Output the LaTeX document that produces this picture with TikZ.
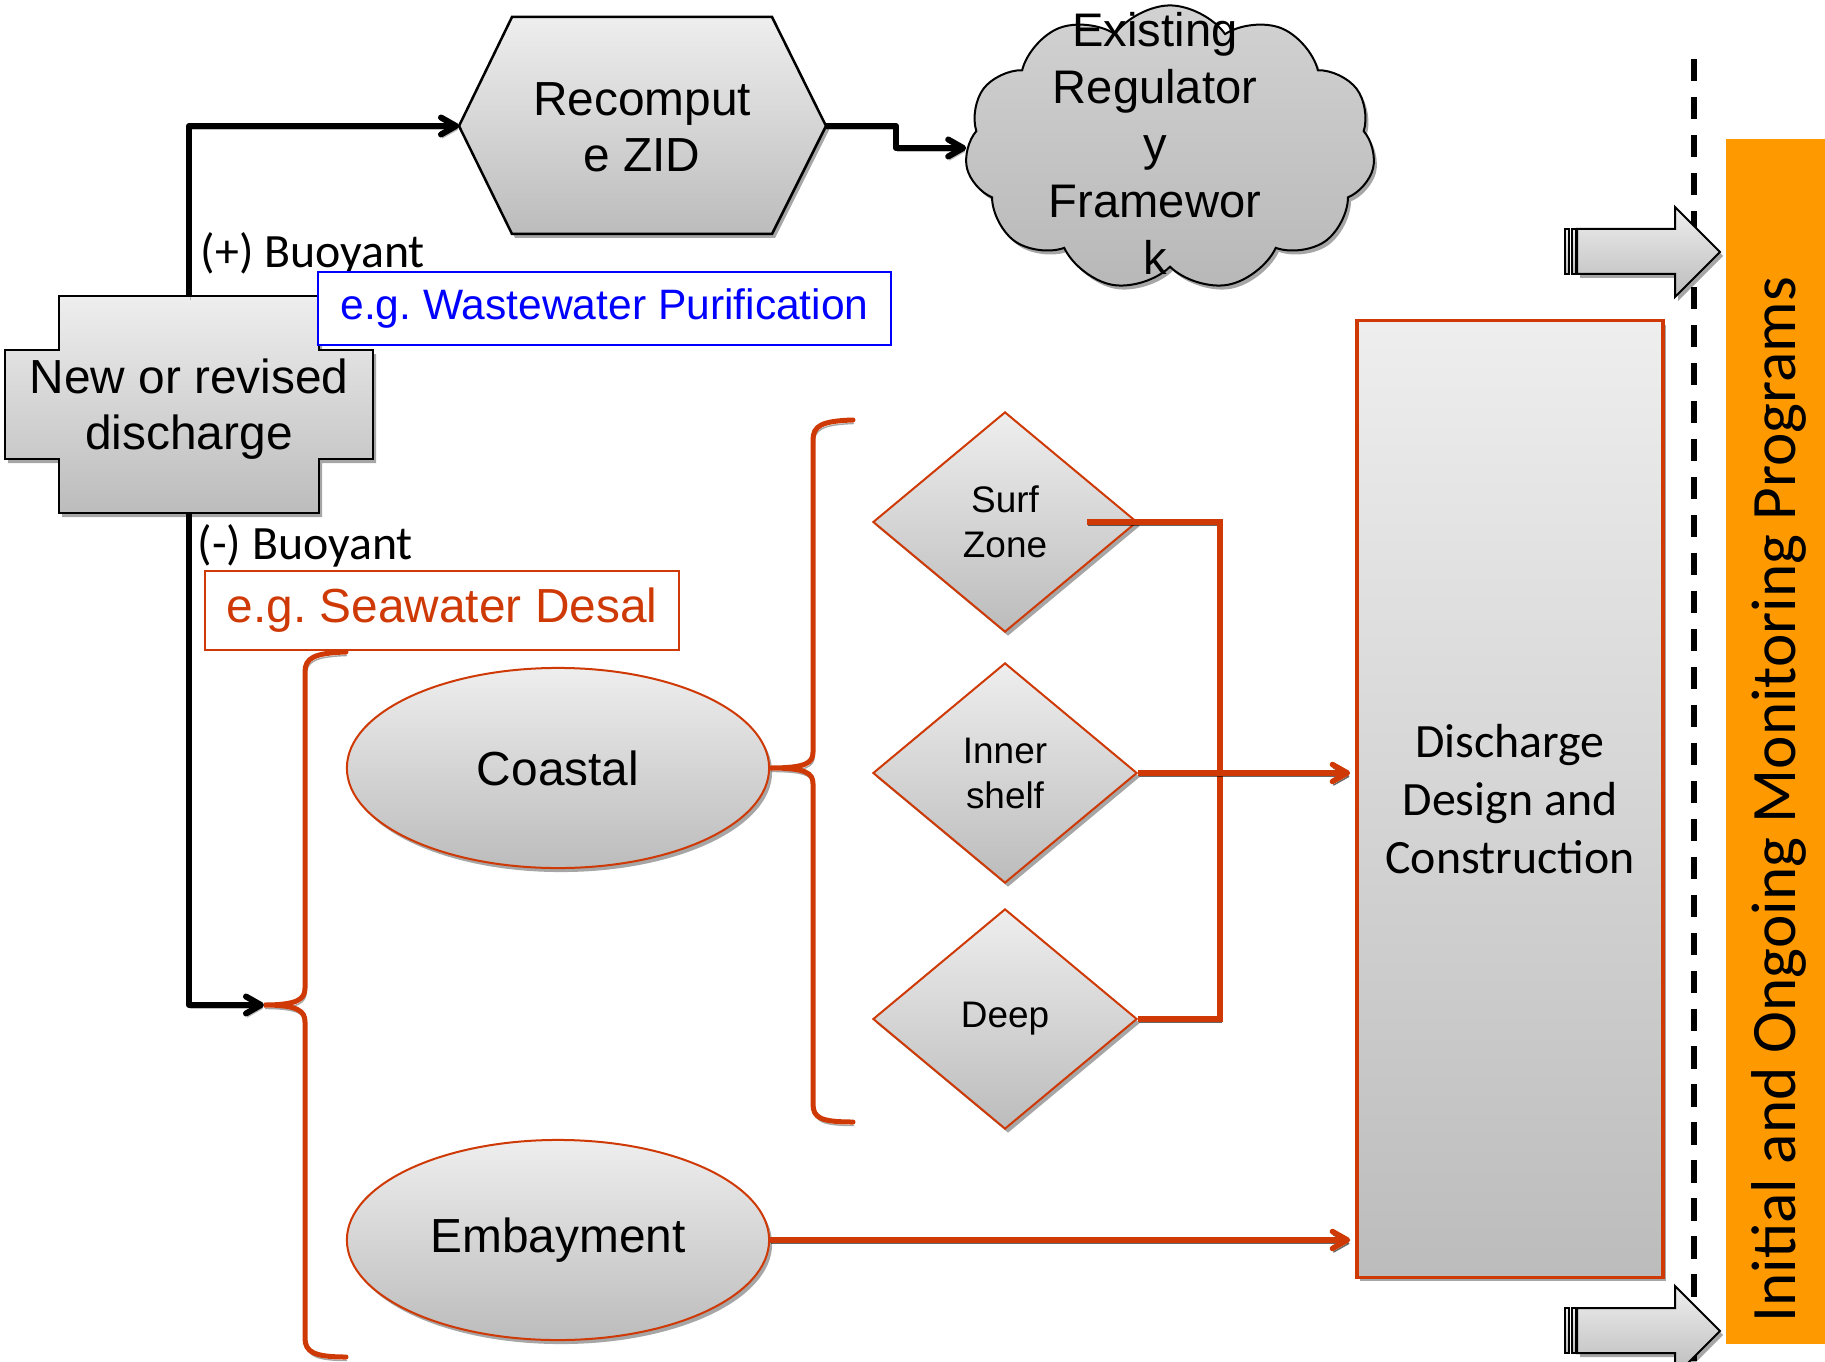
\documentclass[tikz,border=0pt]{standalone}
\usepackage{fontspec}
\setmainfont{Liberation Sans}
\newfontfamily\calib{Carlito}
\frenchspacing
\usetikzlibrary{shapes.geometric,shapes.symbols,arrows.meta,shadows}
\definecolor{myred}{RGB}{206,57,6}
\definecolor{myblue}{RGB}{0,0,255}
\definecolor{myorange}{RGB}{255,153,0}
\definecolor{gtop}{RGB}{238,238,238}
\definecolor{gbot}{RGB}{188,188,188}
\definecolor{ctop}{RGB}{210,210,210}
\definecolor{cbot}{RGB}{184,184,184}
\tikzset{
  shd/.style={drop shadow={shadow xshift=0.03cm, shadow yshift=-0.04cm, opacity=0.35, fill=black}},
  lshd/.style={preaction={draw=black, draw opacity=#1, transform canvas={xshift=0.012cm, yshift=-0.035cm}}},
  lshd/.default=0.3,
  grad/.style={top color=gtop, bottom color=gbot},
  blkline/.style={draw=black, line width=0.06cm, line join=round, lshd=0.25},
  redline/.style={draw=myred, line width=0.055cm, lshd=0.6},
  bracestyle/.style={draw=myred, line width=0.05cm, line cap=round, lshd=0.35},
  barb/.style={-{Straight Barb[length=0.15cm,width=0.17cm,round]}},
  maintxt/.style={font=\fontsize{13.6pt}{15.9pt}\selectfont, align=center},
  smalltxt/.style={font=\fontsize{10.5pt}{12.8pt}\selectfont, align=center},
  caltxt/.style={font=\calib\fontsize{13.6pt}{16.5pt}\selectfont, align=center},
  dmd/.style={diamond, draw=myred, line width=0.02cm, grad, shd, minimum width=2.64cm, minimum height=2.2cm, inner sep=0pt, aspect=1.2, smalltxt},
  ell/.style={ellipse, draw=myred, line width=0.02cm, grad, shd, minimum width=4.22cm, minimum height=2.0cm, inner sep=0pt, maintxt},
  shapeline/.style={draw=black, line width=0.025cm},
}
\begin{document}
\begin{tikzpicture}[x=0.01cm, y=-0.01cm]
\useasboundingbox (0,0) rectangle (1825,1361);
\fill[white] (0,0) rectangle (1825,1361);
\clip (0,0) rectangle (1825,1361);

% dashed separator
\coordinate (dashT) at (1694,59);
\coordinate (dashB) at (1694,1361);
\draw[black, line width=0.065cm, dash pattern=on 6.3pt off 4.5pt] (dashT) -- (dashB);

% orange bar
\node[fill=myorange, minimum width=0.99cm, minimum height=12.05cm, inner sep=0pt] (mon) at (1775.5,741.5) {};
\node[rotate=90, anchor=base west, inner sep=0pt, font=\calib\fontsize{18pt}{21pt}\selectfont] (montxt) at (1795,1323) {Initial and Ongoing Monitoring Programs};

% block arrows
\path[shapeline, line width=0.02cm, grad, shd] (1577,229) -- (1675,229) -- (1675,207) -- (1720,252) -- (1675,297) -- (1675,274) -- (1577,274) -- cycle;
\path[shapeline, line width=0.02cm, grad] (1565,229) rectangle (1569,274);
\path[shapeline, line width=0.02cm, grad] (1571.5,229) rectangle (1575.5,274);
\path[shapeline, line width=0.02cm, grad, shd] (1577,1308) -- (1675,1308) -- (1675,1286) -- (1720,1331) -- (1675,1376) -- (1675,1353) -- (1577,1353) -- cycle;
\path[shapeline, line width=0.02cm, grad] (1565,1308) rectangle (1569,1353);
\path[shapeline, line width=0.02cm, grad] (1571.5,1308) rectangle (1575.5,1353);

% cross: new or revised discharge
\path[shapeline, grad, shd] (59,296) -- (319,296) -- (319,350) -- (373,350) -- (373,459) -- (319,459) -- (319,513) -- (59,513) -- (59,459) -- (5,459) -- (5,350) -- (59,350) -- cycle;
\node[maintxt] (disc) at (189,409) {New or revised\\discharge};
\coordinate (discN) at (189,296);
\coordinate (discS) at (189,513);

% hexagon: recompute ZID
\path[shapeline, grad, shd] (459,126) -- (512,17) -- (772,17) -- (826,126) -- (772,234) -- (512,234) -- cycle;
\node[maintxt] (zid) at (642,127) {Recomput\\e ZID};
\coordinate (zidW) at (459,126);
\coordinate (zidE) at (826,126);

% cloud
\node[cloud, draw=black, line width=0.02cm, top color=ctop, bottom color=cbot, cloud puffs=11, cloud puff arc=110, aspect=1.44, minimum width=4.1cm, minimum height=2.85cm, inner sep=0pt, shd] (cloud) at (1170,148) {};
\node[font=\fontsize{13.4pt}{16.2pt}\selectfont, align=center] (cloudtxt) at (1155,143) {Existing\\Regulator\\y\\Framewor\\k};

% labels
\node[caltxt, anchor=west, inner sep=0pt] (pbuoy) at (200,254) {(+) Buoyant};
\node[caltxt, anchor=west, inner sep=0pt] (nbuoy) at (197,546) {(-) Buoyant};
\node[draw=myblue, fill=white, line width=0.018cm, minimum width=5.73cm, minimum height=0.73cm, inner sep=0pt, text=myblue, font=\fontsize{12.1pt}{14pt}\selectfont] (wwp) at (604.5,308.5) {e.g. Wastewater Purification};
\node[draw=myred, fill=white, line width=0.015cm, minimum width=4.74cm, minimum height=0.79cm, inner sep=0pt, text=myred, font=\fontsize{13.6pt}{15.9pt}\selectfont] (swd) at (442,610.5) {e.g. Seawater Desal};

% black connectors
\draw[blkline, barb] (discN) |- (zidW);
\draw[blkline, barb] (zidE) -- ++(70,0) |- (cloud.west);
\coordinate (lcusp) at (264,1005);
\draw[blkline, barb] (discS) |- (lcusp);

% ellipses
\node[ell] (coastal) at (558,768) {Coastal};
\node[ell] (emb) at (558,1240) {Embayment};

% left brace
\draw[bracestyle] (346,652) .. controls (314,653) and (305,658) .. (305,672) -- (305,988) .. controls (305,999) and (298,1005) .. (lcusp) .. controls (298,1005) and (305,1011) .. (305,1022) -- (305,1338) .. controls (305,1352) and (314,1357) .. (346,1357);

% middle brace
\draw[bracestyle] (853,420) .. controls (821,421) and (813,426) .. (813,440) -- (813,752) .. controls (813,763) and (806,768) .. (coastal.east) .. controls (806,768) and (813,773) .. (813,784) -- (813,1104) .. controls (813,1118) and (821,1122) .. (853,1122);

% diamonds
\node[dmd] (surf) at (1005,522) {Surf\\Zone};
\node[dmd] (inner) at (1005,773) {Inner\\shelf};
\node[dmd] (deep) at (1005,1019) {Deep};

% design box
\node[draw=myred, line width=0.035cm, top color=gtop, bottom color=gbot, shd, minimum width=3.06cm, minimum height=9.56cm, inner sep=0pt, caltxt] (design) at (1510,799) {Discharge\\Design and\\Construction};

% red connectors
\draw[redline] ([xshift=-0.51cm]surf.east) -- ++(133,0) |- (deep.east);
\draw[redline, barb] (inner.east) -- ([xshift=-0.05cm]inner.east -| design.west);
\draw[redline, barb] (emb.east) -- ([xshift=-0.05cm]emb.east -| design.west);
\end{tikzpicture}
\end{document}
